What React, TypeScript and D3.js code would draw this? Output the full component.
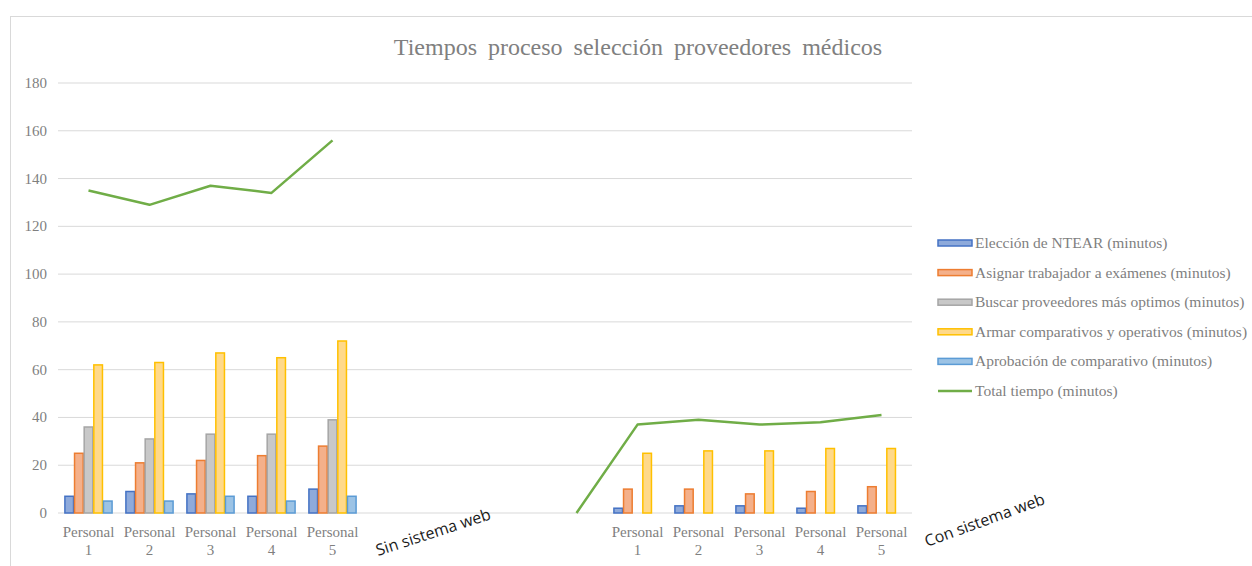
import React from "react";
import * as d3 from "d3";

const categoryKeys = ["S1","S2","S3","S4","S5","G1","G2","G3","G4","C1","C2","C3","C4","C5"];
const categoryLine1 = ["Personal","Personal","Personal","Personal","Personal","","","","","Personal","Personal","Personal","Personal","Personal"];
const categoryLine2 = ["1","2","3","4","5","","","","","1","2","3","4","5"];

const seriesNames = [
  "Elección de NTEAR (minutos)",
  "Asignar trabajador a exámenes (minutos)",
  "Buscar proveedores más optimos (minutos)",
  "Armar comparativos y operativos (minutos)",
  "Aprobación de comparativo (minutos)",
];
const eleccion = [7, 9, 8, 7, 10, null, null, null, null, 2, 3, 3, 2, 3];
const asignar = [25, 21, 22, 24, 28, null, null, null, null, 10, 10, 8, 9, 11];
const buscar = [36, 31, 33, 33, 39, null, null, null, null, 0, 0, 0, 0, 0];
const armar = [62, 63, 67, 65, 72, null, null, null, null, 25, 26, 26, 27, 27];
const aprobacion = [5, 5, 7, 5, 7, null, null, null, null, 0, 0, 0, 0, 0];
const totalName = "Total tiempo (minutos)";
const total = [135, 129, 137, 134, 156, null, null, null, 0, 37, 39, 37, 38, 41];
const yTicks = [0, 20, 40, 60, 80, 100, 120, 140, 160, 180];

const title = "Tiempos proceso selección proveedores médicos";
const annotations = ["Sin sistema web", "Con sistema web"];

const fills = ["#8eaadb", "#f4b08a", "#c8c8c8", "#ffd98a", "#9cc3e5"];
const strokes = ["#4472c4", "#ed7d31", "#a5a5a5", "#ffc000", "#5b9bd5"];
const lineColor = "#70ad47";

export default function App() {
  const W = 1252, H = 566;
  const left = 58, right = 912, top = 83, bottom = 513;
  const x0 = d3.scaleBand<string>().domain(categoryKeys).range([left, right]).paddingInner(0.21).paddingOuter(0.105);
  const x1 = d3.scaleBand<number>().domain([0, 1, 2, 3, 4]).range([0, x0.bandwidth()]).padding(0);
  const y = d3.scaleLinear().domain([0, 180]).range([bottom, top]);
  const series = [eleccion, asignar, buscar, armar, aprobacion];
  const center = (i: number) => (x0(categoryKeys[i]) as number) + x0.bandwidth() / 2;
  const line = d3
    .line<number | null>()
    .defined((d) => d !== null)
    .x((_, i) => center(i))
    .y((d) => y(d as number));
  const serif = "'Liberation Serif', 'Times New Roman', serif";
  const textGray = "#7f7f7f";
  const legFont = 15.5;

  return (
    <svg width={W} height={H} style={{ position: "absolute", left: 0, top: 0, background: "#fff" }}>
      <rect x={10.5} y={16.5} width={W + 10} height={H} fill="#fff" stroke="#d9d9d9" />
      <text x={638} y={55} textAnchor="middle" fontFamily={serif} fontSize={24} fill="#808080" style={{ wordSpacing: "5px" }}>
        {title}
      </text>
      {yTicks.map((t) => (
        <g key={t}>
          <line x1={left} x2={right} y1={y(t)} y2={y(t)} stroke="#d9d9d9" strokeWidth={1} />
          <text x={47} y={y(t) + 5} textAnchor="end" fontFamily={serif} fontSize={15} fill={textGray}>
            {t}
          </text>
        </g>
      ))}
      {series.map((vals, s) =>
        vals.map((v, i) =>
          v === null || v === 0 ? null : (
            <rect
              key={`${s}-${i}`}
              x={(x0(categoryKeys[i]) as number) + (x1(s) as number) + 0.5}
              y={y(v)}
              width={x1.bandwidth() - 1}
              height={y(0) - y(v)}
              fill={fills[s]}
              stroke={strokes[s]}
              strokeWidth={1.5}
            />
          )
        )
      )}
      <path d={line(total) || ""} fill="none" stroke={lineColor} strokeWidth={2.5} strokeLinejoin="round" />
      {categoryKeys.map((k, i) => (
        <g key={k}>
          <text x={center(i)} y={537} textAnchor="middle" fontFamily={serif} fontSize={15} fill={textGray}>
            {categoryLine1[i]}
          </text>
          <text x={center(i)} y={555} textAnchor="middle" fontFamily={serif} fontSize={15} fill={textGray}>
            {categoryLine2[i]}
          </text>
        </g>
      ))}
      <text transform="translate(378,556) rotate(-18)" fontFamily="'Open Sans', sans-serif" fontSize={16} fill="#1a1a1a">
        {annotations[0]}
      </text>
      <text transform="translate(927,547) rotate(-20)" fontFamily="'Open Sans', sans-serif" fontSize={16} fill="#1a1a1a">
        {annotations[1]}
      </text>
      {seriesNames.map((n, s) => (
        <g key={n}>
          <rect x={938} y={240 + s * 29.6} width={34} height={6} fill={fills[s]} stroke={strokes[s]} strokeWidth={1.5} />
          <text x={975} y={248 + s * 29.6} fontFamily={serif} fontSize={legFont} fill={textGray}>
            {n}
          </text>
        </g>
      ))}
      <line x1={938} x2={972} y1={243 + 5 * 29.6} y2={243 + 5 * 29.6} stroke={lineColor} strokeWidth={2.5} />
      <text x={975} y={248 + 5 * 29.6} fontFamily={serif} fontSize={legFont} fill={textGray}>
        {totalName}
      </text>
    </svg>
  );
}
